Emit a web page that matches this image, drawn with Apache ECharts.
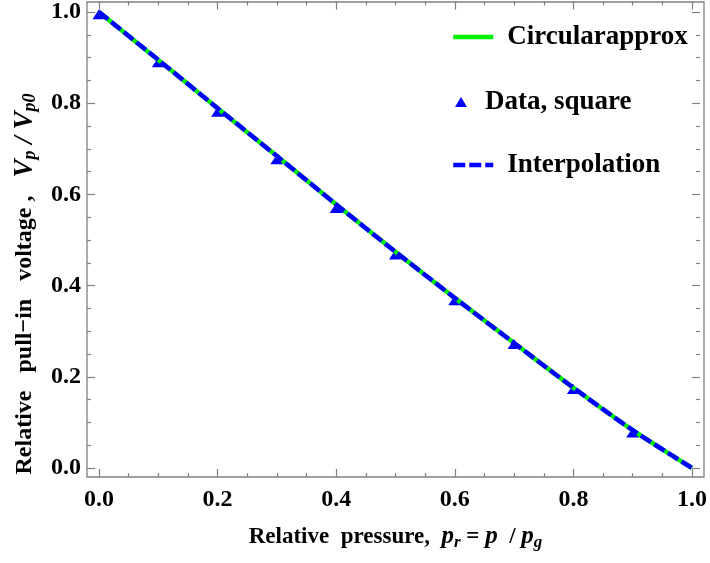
<!DOCTYPE html>
<html>
<head>
<meta charset="utf-8">
<script src="https://cdn.jsdelivr.net/npm/echarts@6/dist/echarts.min.js"></script>
<style>
html,body{margin:0;padding:0;background:#ffffff;}
#chart{width:710px;height:563px;}
</style>
</head>
<body>
<div id="chart"></div>
<script>
// ---- data ----
const xTickValues = [0.0, 0.2, 0.4, 0.6, 0.8, 1.0];
const yTickValues = [0.0, 0.2, 0.4, 0.6, 0.8, 1.0];
const curveX = [0.0, 0.1, 0.2, 0.3, 0.4, 0.5, 0.6, 0.7, 0.8, 0.9, 1.0];
const circularApprox = [1.000, 0.895, 0.789, 0.684, 0.578, 0.474, 0.373, 0.274, 0.176, 0.083, 0.000];
const interpolation = [1.000, 0.895, 0.789, 0.684, 0.578, 0.474, 0.373, 0.274, 0.176, 0.083, 0.000];
const dataX = [0.0, 0.1, 0.2, 0.3, 0.4, 0.5, 0.6, 0.7, 0.8, 0.9];
const dataSquare = [0.995, 0.890, 0.781, 0.677, 0.570, 0.468, 0.368, 0.272, 0.173, 0.078];
const seriesNames = ['Circularapprox', 'Data, square', 'Interpolation'];

const pairs = (xs, ys) => xs.map((x, i) => [x, ys[i]]);

const FONT = '"Liberation Serif", "Times New Roman", serif';
const AXIS_GRAY = '#808080';

function tickAxis(extra) {
  return Object.assign({
    type: 'value', min: 0, max: 1, interval: 0.2,
    gridIndex: 1,
    axisLine: { show: false, onZero: false },
    axisTick: { show: true, inside: true, length: 8, lineStyle: { color: AXIS_GRAY, width: 1.2 } },
    minorTick: { show: true, splitNumber: 4, length: 4, lineStyle: { color: AXIS_GRAY, width: 1.2 } },
    splitLine: { show: false },
    minorSplitLine: { show: false }
  }, extra);
}
const labelStyle = {
  fontFamily: FONT, fontWeight: 'bold', fontSize: 24, color: '#000',
  formatter: v => v.toFixed(1)
};
function richName(fs, mfs, sfs) {
  return {
    b: { fontFamily: FONT, fontWeight: 'bold', fontSize: fs, color: '#000', lineHeight: 28 },
    i: { fontFamily: FONT, fontWeight: 'bold', fontStyle: 'italic', fontSize: mfs, color: '#000', lineHeight: 28 },
    s: { fontFamily: FONT, fontWeight: 'bold', fontStyle: 'italic', fontSize: sfs, color: '#000', lineHeight: 13, verticalAlign: 'bottom' }
  };
}
const legendText = { fontFamily: FONT, fontWeight: 'bold', fontSize: 27, color: '#000' };

const option = {
  backgroundColor: '#ffffff',
  animation: false,
  grid: [
    { left: 87, right: 6, top: 2, bottom: 86, show: true, borderColor: AXIS_GRAY, borderWidth: 1.3, backgroundColor: 'transparent' },
    { left: 99, right: 14, top: 12, bottom: 95 }
  ],
  xAxis: [
    { type: 'value', gridIndex: 0, min: 0, max: 1, show: false },
    tickAxis({
      position: 'bottom', offset: 9,
      axisLabel: Object.assign({ margin: 11, customValues: xTickValues }, labelStyle),
      name: '{b|Relative  pressure,  }{i|p}{s|r}{b| = }{i|p}{b|  / }{i|p}{s|g}',
      nameLocation: 'middle', nameGap: 46, nameMoveOverlap: false,
      nameTextStyle: { rich: richName(23, 25, 17) }
    }),
    tickAxis({ position: 'top', offset: 10.5, axisLabel: { show: false } })
  ],
  yAxis: [
    { type: 'value', gridIndex: 0, min: 0, max: 1, show: false },
    tickAxis({
      position: 'left', offset: 12,
      axisLabel: Object.assign({ margin: 6, customValues: yTickValues }, labelStyle),
      name: '{b|Relative   pull\u2212in   voltage ,   }{i|V}{s|p}{i| / V}{s|p0}',
      nameLocation: 'middle', nameRotate: 90, nameGap: 48, nameMoveOverlap: false,
      nameTextStyle: { rich: richName(24, 27, 18), padding: [0, 88, 0, 0] }
    }),
    tickAxis({ position: 'right', offset: 8, axisLabel: { show: false } })
  ],
  legend: [
    {
      data: [seriesNames[0]], left: 451, top: 23.5, padding: 0,
      itemWidth: 40, itemHeight: 14,
      itemStyle: { opacity: 0 },
      lineStyle: { width: 4.5 },
      textStyle: Object.assign({ padding: [0, 0, 0, 9] }, legendText)
    },
    {
      data: [seriesNames[1]], left: 455, top: 88.5, padding: 0,
      itemWidth: 12, itemHeight: 10,
      textStyle: Object.assign({ padding: [0, 0, 0, 13] }, legendText)
    },
    {
      data: [seriesNames[2]], left: 451, top: 151.5, padding: 0,
      itemWidth: 40, itemHeight: 14,
      itemStyle: { opacity: 0 },
      lineStyle: { width: 4.5 },
      textStyle: Object.assign({ padding: [0, 0, 0, 9] }, legendText)
    }
  ],
  series: [
    {
      name: seriesNames[0], type: 'line', xAxisIndex: 1, yAxisIndex: 1,
      data: pairs(curveX, circularApprox), symbol: 'none', smooth: 0.3, clip: false, z: 3,
      color: '#00ee00',
      lineStyle: { color: '#00ee00', width: 4.5 }
    },
    {
      name: seriesNames[1], type: 'scatter', xAxisIndex: 1, yAxisIndex: 1,
      data: pairs(dataX, dataSquare), symbol: 'triangle', symbolSize: [13, 10], clip: false, z: 2,
      itemStyle: { color: '#0000ff', opacity: 1 }
    },
    {
      name: seriesNames[2], type: 'line', xAxisIndex: 1, yAxisIndex: 1,
      data: pairs(curveX, interpolation), symbol: 'none', smooth: 0.3, clip: false, z: 4,
      color: '#0000ff',
      lineStyle: { color: '#0000ff', width: 4.5, type: [12, 4], cap: 'butt' }
    }
  ]
};

const chart = echarts.init(document.getElementById('chart'), null, { renderer: 'canvas' });
chart.setOption(option);
</script>
</body>
</html>
